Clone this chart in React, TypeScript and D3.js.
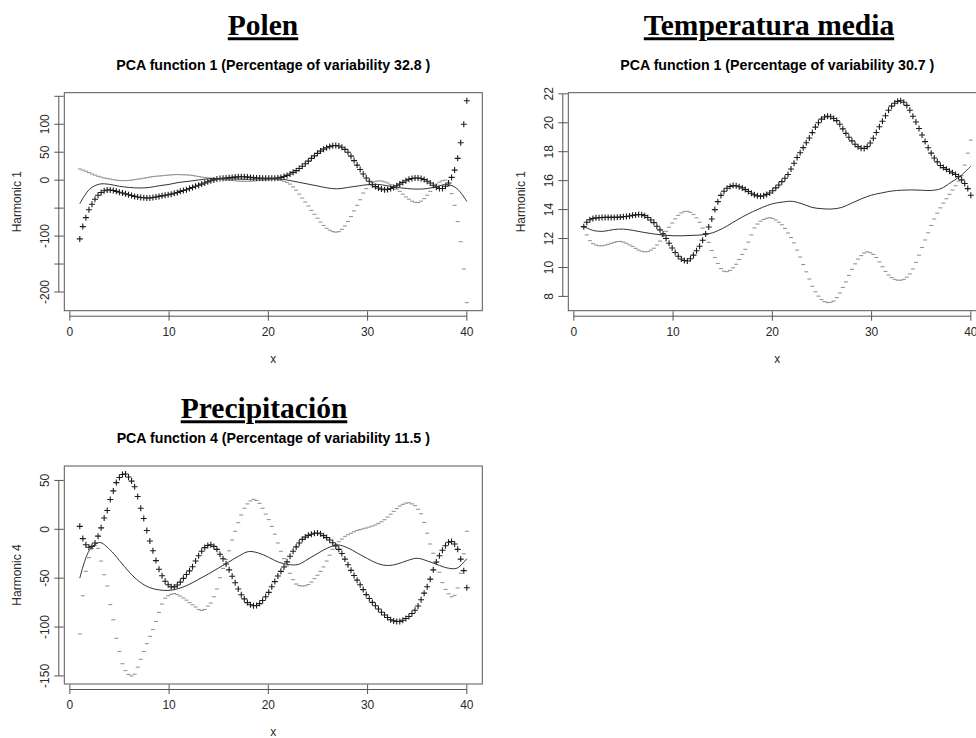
import React from "react";
import * as d3 from "d3";

// fda::plot.pca.fd evaluation grid: nx = 128 points over [1, 40]
const NX = 128;
const argvals: number[] = d3.range(NX).map((i) => 1 + (39 * i) / (NX - 1));
const meanArgs: number[] = d3.range(1, 41);

const xTicks = [0, 10, 20, 30, 40];

// ---------- Polen (Harmonic 1, 32.8%) ----------
const polenPlus = [
  -105, -83, -67, -53, -43, -34, -27, -22, -19, -17.5,
  -17.5, -18.5, -20, -21.5, -23, -24.5, -26, -27.5, -29, -30,
  -31, -31.5, -32, -32, -31, -30, -29, -28, -27, -26,
  -25, -23.5, -22, -20, -18.5, -17, -15, -13, -11, -9,
  -7, -5, -3, -1, 0.5, 2, 3, 3.5, 4, 4.5,
  5, 5.5, 6, 6, 6, 5.5, 5, 4.5, 4, 4,
  3.5, 3.5, 3.5, 3.5, 3.5, 4, 5, 6.5, 8.5, 11,
  14, 17, 21, 25, 29.5, 34, 39, 43.5, 48, 52,
  55.5, 58, 60, 61.5, 62, 61, 59, 55, 50, 43,
  35, 27, 19, 11, 4, -2, -8, -11.5, -14, -16,
  -17, -16.5, -15, -13, -10, -7, -4, -1, 1.5, 3,
  4, 4, 3, 1, -2, -5, -9, -12.5, -15, -15,
  -11, -5, 5, 18, 39, 67, 100, 142,
];
const polenMinus = [
  20, 18, 16, 13.5, 11, 9, 7, 5.5, 4, 3,
  2, 1, 0, -0.5, -0.8, -0.8, -0.5, 0, 1, 2,
  2.5, 3.5, 4.5, 5.5, 6.5, 7, 7.5, 8, 8.5, 9,
  9.5, 10, 10, 10, 9.5, 9.5, 9, 8.5, 7.5, 6.5,
  5.5, 4.5, 4, 3.5, 3, 2.5, 2, 1, 0.5, 0,
  -0.5, -1, -1.5, -2, -2, -2, -2, -1.5, -1, -0.5,
  0, 0.5, 1, 1.5, 1.5, 1, 0, -2, -4, -7,
  -12, -18, -25, -32, -39, -46, -54, -61, -68, -75,
  -81, -86, -89.5, -92, -93, -92, -88, -82, -74, -65,
  -55, -45, -35, -23, -15, -8, -4, -2, -1.5, -1.5,
  -3, -5, -8, -11, -16, -20, -25, -30, -34, -37.5,
  -39.5, -40, -37.5, -33, -27, -20, -13, -7, -3.5, -1,
  0, -10, -24, -45, -74, -110, -159, -219,
];
const polenMean = [
  -42, -16, -7, -7.5, -11, -13, -14, -13, -10, -7.5,
  -4, -2, 0.5, 2.5, 3, 2.5, 2, 1.5, 2, 2.5,
  2.5, 0, -3.5, -7, -10.5, -14, -15.5, -13, -10.5, -8,
  -7.5, -10, -13, -15, -16, -15, -11.5, -7.5, -15, -38,
];
const polenYTicks = [-200, -150, -100, -50, 0, 50, 100, 150];
const polenYLabels = [-200, -100, 0, 50, 100];

// ---------- Temperatura media (Harmonic 1, 30.7%) ----------
const tempPlus = [
  12.82, 13.12, 13.3, 13.38, 13.43, 13.44, 13.45, 13.46, 13.46, 13.46,
  13.46, 13.47, 13.48, 13.5, 13.52, 13.56, 13.6, 13.63, 13.66, 13.65,
  13.58, 13.45, 13.28, 13.1, 12.85, 12.6, 12.32, 12.0, 11.67, 11.35,
  11.03, 10.78, 10.58, 10.48, 10.45, 10.6, 10.85, 11.15, 11.47, 11.88,
  12.32, 12.8, 13.35, 14.0, 14.55, 14.98, 15.27, 15.47, 15.6, 15.66,
  15.64, 15.58, 15.5, 15.38, 15.25, 15.13, 15.02, 14.95, 14.92, 14.96,
  15.05, 15.15, 15.3, 15.5, 15.7, 15.93, 16.17, 16.42, 16.8, 17.2,
  17.6, 17.93, 18.28, 18.62, 18.95, 19.32, 19.7, 20.0, 20.25, 20.4,
  20.45, 20.42, 20.3, 20.15, 19.9, 19.58, 19.27, 19.0, 18.75, 18.52,
  18.35, 18.24, 18.22, 18.35, 18.6, 18.93, 19.33, 19.72, 20.1, 20.48,
  20.86, 21.15, 21.35, 21.48, 21.52, 21.42, 21.2, 20.87, 20.45, 20.05,
  19.6, 19.15, 18.7, 18.27, 17.9, 17.56, 17.3, 17.05, 16.9, 16.78,
  16.65, 16.54, 16.42, 16.28, 16.05, 15.8, 15.45, 14.99,
];
const tempMinus = [
  12.78, 12.25, 11.85, 11.65, 11.55, 11.5, 11.5, 11.54, 11.6, 11.67,
  11.73, 11.79, 11.8, 11.75, 11.67, 11.56, 11.45, 11.32, 11.2, 11.12,
  11.08, 11.1, 11.2, 11.33, 11.55, 11.82, 12.17, 12.5, 12.78, 13.07,
  13.36, 13.6, 13.77, 13.86, 13.88, 13.81, 13.66, 13.43, 13.12, 12.72,
  12.27, 11.73, 11.17, 10.69, 10.28, 9.92, 9.74, 9.71, 9.8, 9.98,
  10.22, 10.55, 10.9, 11.25, 11.75, 12.25, 12.73, 13.0, 13.2, 13.32,
  13.4, 13.44, 13.39, 13.28, 13.12, 12.95, 12.7, 12.38, 12.07, 11.7,
  11.2, 10.72, 10.2, 9.7, 9.2, 8.7, 8.32, 8.02, 7.78, 7.64,
  7.57, 7.59, 7.68, 7.92, 8.23, 8.62, 9.0, 9.45, 9.87, 10.25,
  10.58, 10.82, 11.0, 11.08, 11.02, 10.9, 10.69, 10.38, 10.05, 9.73,
  9.48, 9.3, 9.18, 9.12, 9.12, 9.18, 9.33, 9.55, 9.9, 10.35,
  10.85, 11.38, 11.9, 12.4, 12.9, 13.35, 13.75, 14.12, 14.45, 14.75,
  15.05, 15.35, 15.65, 15.97, 16.35, 17.07, 17.9, 18.8,
];
const tempMean = [
  12.82, 12.55, 12.5, 12.62, 12.65, 12.56, 12.43, 12.32, 12.24, 12.19,
  12.19, 12.22, 12.26, 12.4, 12.7, 13.1, 13.5, 13.85, 14.15, 14.4,
  14.52, 14.57, 14.4, 14.15, 14.06, 14.04, 14.15, 14.45, 14.75, 15.0,
  15.15, 15.28, 15.34, 15.36, 15.34, 15.32, 15.45, 15.88, 16.35, 17.0,
];
const tempYTicks = [8, 10, 12, 14, 16, 18, 20, 22];
const tempYLabels = [8, 10, 12, 14, 16, 18, 20, 22];

// ---------- Precipitación (Harmonic 4, 11.5%) ----------
const precPlus = [
  3, -9.5, -15.8, -18.3, -17.5, -14, -7, 1.5, 11.5, 19.3,
  30.5, 39.3, 47.8, 53, 56, 56.5, 53.5, 49.3, 43.5, 33.5,
  21.5, 11, -1.2, -12, -22, -32, -40.8, -47.5, -53.2, -56.8,
  -58.7, -58.9, -57, -54, -50.2, -46.3, -42.5, -38.3, -32.5, -27,
  -22.5, -18.7, -16.5, -15.8, -17.5, -20.5, -25.5, -30.2, -35.5, -41.5,
  -48, -54.7, -61, -67, -71.2, -75, -77.2, -78.2, -78, -76,
  -72.8, -69, -64.5, -58.8, -53.5, -47.8, -43, -38.5, -33.3, -27.5,
  -22.5, -18, -14, -10.3, -8, -6.2, -5, -4, -3.8, -4.6,
  -6.5, -8.5, -11, -13.8, -17, -20.5, -24.8, -30.5, -36.3, -42,
  -47.2, -52, -56.8, -61.7, -66.8, -70.8, -74.8, -78.2, -81.5, -84.8,
  -87.6, -90.3, -92.6, -93.7, -94.3, -94.2, -93, -91.2, -89.2, -86.2,
  -82.8, -78.5, -72, -65.3, -58.8, -51, -41.5, -33.5, -27, -21.5,
  -16.8, -13.2, -12.5, -15, -20.5, -30.5, -42.3, -59.8,
];
const precMinus = [
  -107, -68, -43, -29, -19.5, -16.5, -19.5, -32.5, -46.5, -58,
  -77, -92.5, -111.5, -125, -137.5, -144.5, -148.5, -150, -148.2, -141,
  -133, -125, -117, -109.5, -102.5, -94.3, -85, -76.5, -70.5, -68,
  -66.5, -65.7, -66.8, -68.3, -70.3, -72.5, -75, -77.2, -79.5, -82,
  -83, -82, -78.5, -75.5, -69, -61, -49.5, -40, -31, -22,
  -11, -2, 6.8, 14.6, 21.6, 26, 29, 30.6, 29.5, 26.5,
  21.5, 15.5, 10, 3, -5, -14, -22.5, -30, -37.5, -45,
  -51.5, -56, -57.5, -58, -57.8, -56.5, -54, -50.5, -47, -43,
  -38.5, -32.5, -26.5, -20.5, -15.5, -12.5, -10, -7.2, -5.5, -4,
  -2.5, -1.2, -0.3, 0.5, 1.3, 2.3, 3.3, 4.4, 6, 7.8,
  9.8, 12.5, 15.5, 18.3, 21.2, 23.8, 25.5, 26.8, 27.2, 26,
  24.2, 20.5, 16, 7, -4, -15, -24.5, -34, -44, -54.5,
  -61.5, -66, -69, -67.5, -60, -45, -25, -2,
];
const precMean = [
  -50, -21, -13.5, -20.5, -32, -44, -53.5, -59.5, -62, -62.5,
  -60.5, -56.5, -51, -45.5, -39.5, -33.5, -27.5, -22.8, -24.2, -28.5,
  -33.5, -36, -36, -30.5, -24.5, -19, -16, -19, -24.5, -30,
  -35, -37, -35.5, -32, -29.6, -32.3, -36, -39.5, -39.8, -30,
];
const precYTicks = [-150, -100, -50, 0, 50];
const precYLabels = [-150, -100, -50, 0, 50];

const SANS = "'Liberation Sans', Arial, Helvetica, sans-serif";
const SERIF = "'Liberation Serif', 'Times New Roman', serif";
const AXIS_COL = "#555";
const TXT_COL = "#2a2a2a";

type PanelProps = {
  left: number;
  top: number;
  plus: number[];
  minus: number[];
  mean: number[];
  yTicks: number[];
  yLabels: number[];
  ylab: string;
  subtitle: string;
};

function Panel({ left, top, plus, minus, mean, yTicks, yLabels, ylab, subtitle }: PanelProps) {
  const W = 418;
  const H = 218;
  const lo = d3.min(plus.concat(minus)) as number;
  const hi = d3.max(plus.concat(minus)) as number;
  const pad = (hi - lo) * 0.04;
  const y = d3.scaleLinear().domain([lo - pad, hi + pad]).range([top + H, top]);
  const xPad = (40 - 1) * 0.04;
  const x = d3.scaleLinear().domain([1 - xPad, 40 + xPad]).range([left, left + W]);

  const meanLine = d3
    .line<number>()
    .x((_, i) => x(meanArgs[i]))
    .y((d) => y(d))
    .curve(d3.curveCatmullRom.alpha(0.5));

  const bottom = top + H;
  const cx = left + W / 2;
  const xAxisY = bottom + 5.5;
  const yAxisX = left - 5.5;

  return (
    <g>
      <text
        x={cx}
        y={top - 23.2}
        textAnchor="middle"
        fontFamily={SANS}
        fontWeight="bold"
        fontSize={14.2}
        fill="#000"
      >
        {subtitle}
      </text>

      {/* box */}
      <rect x={left} y={top} width={W} height={H} fill="none" stroke={AXIS_COL} strokeWidth={1} />

      {/* x axis */}
      <line
        x1={x(xTicks[0])}
        x2={x(xTicks[xTicks.length - 1])}
        y1={xAxisY}
        y2={xAxisY}
        stroke={AXIS_COL}
      />
      {xTicks.map((t) => (
        <g key={"xt" + t}>
          <line x1={x(t)} x2={x(t)} y1={bottom + 0.5} y2={bottom + 10} stroke={AXIS_COL} />
          <text
            x={x(t)}
            y={bottom + 25.3}
            textAnchor="middle"
            fontFamily={SANS}
            fontSize={12}
            fill={TXT_COL}
          >
            {t}
          </text>
        </g>
      ))}
      <text x={cx} y={bottom + 52} textAnchor="middle" fontFamily={SANS} fontSize={12} fill={TXT_COL}>
        x
      </text>

      {/* y axis */}
      <line
        x1={yAxisX}
        x2={yAxisX}
        y1={y(d3.min(yTicks) as number)}
        y2={y(d3.max(yTicks) as number)}
        stroke={AXIS_COL}
      />
      {yTicks.map((t) => (
        <line key={"yt" + t} x1={left - 10} x2={left - 0.5} y1={y(t)} y2={y(t)} stroke={AXIS_COL} />
      ))}
      {yLabels.map((t) => (
        <text
          key={"yl" + t}
          transform={`translate(${left - 15},${y(t)}) rotate(-90)`}
          textAnchor="middle"
          fontFamily={SANS}
          fontSize={12}
          fill={TXT_COL}
        >
          {t}
        </text>
      ))}
      <text
        transform={`translate(${left - 43.3},${top + H / 2}) rotate(-90)`}
        textAnchor="middle"
        fontFamily={SANS}
        fontSize={12}
        fill={TXT_COL}
      >
        {ylab}
      </text>

      {/* minus marks */}
      {minus.map((v, i) => (
        <line
          key={"m" + i}
          x1={x(argvals[i]) - 2}
          x2={x(argvals[i]) + 2}
          y1={y(v)}
          y2={y(v)}
          stroke="#959595"
          strokeWidth={1.1}
        />
      ))}
      {/* plus marks */}
      {plus.map((v, i) => {
        const px = x(argvals[i]);
        const py = y(v);
        return (
          <path
            key={"p" + i}
            d={`M${px - 3},${py}H${px + 3}M${px},${py - 3}V${py + 3}`}
            stroke="#1c1c24"
            strokeWidth={1.1}
            fill="none"
          />
        );
      })}
      {/* mean curve */}
      <path d={meanLine(mean) || ""} fill="none" stroke="#333" strokeWidth={1} />
    </g>
  );
}

function Title({ x, y, text }: { x: number; y: number; text: string }) {
  return (
    <text
      x={x}
      y={y}
      textAnchor="middle"
      fontFamily={SERIF}
      fontWeight="bold"
      fontSize={29.5}
      fill="#000"
      style={{
        textDecoration: "underline",
        textDecorationThickness: "2px",
        textUnderlineOffset: "4px",
      } as React.CSSProperties}
    >
      {text}
    </text>
  );
}

export default function App() {
  return (
    <svg
      width={976}
      height={738}
      style={{ position: "absolute", left: 0, top: 0, background: "#fff" }}
    >
      <rect width={976} height={738} fill="#fff" />
      <Title x={263} y={35.3} text="Polen" />
      <Title x={769} y={35.3} text="Temperatura media" />
      <Title x={264} y={418.3} text="Precipitación" />

      <Panel
        left={64.3}
        top={92.7}
        plus={polenPlus}
        minus={polenMinus}
        mean={polenMean}
        yTicks={polenYTicks}
        yLabels={polenYLabels}
        ylab="Harmonic 1"
        subtitle="PCA function 1 (Percentage of variability 32.8 )"
      />
      <Panel
        left={568.3}
        top={92.7}
        plus={tempPlus}
        minus={tempMinus}
        mean={tempMean}
        yTicks={tempYTicks}
        yLabels={tempYLabels}
        ylab="Harmonic 1"
        subtitle="PCA function 1 (Percentage of variability 30.7 )"
      />
      <Panel
        left={64.3}
        top={466}
        plus={precPlus}
        minus={precMinus}
        mean={precMean}
        yTicks={precYTicks}
        yLabels={precYLabels}
        ylab="Harmonic 4"
        subtitle="PCA function 4 (Percentage of variability 11.5 )"
      />
    </svg>
  );
}
